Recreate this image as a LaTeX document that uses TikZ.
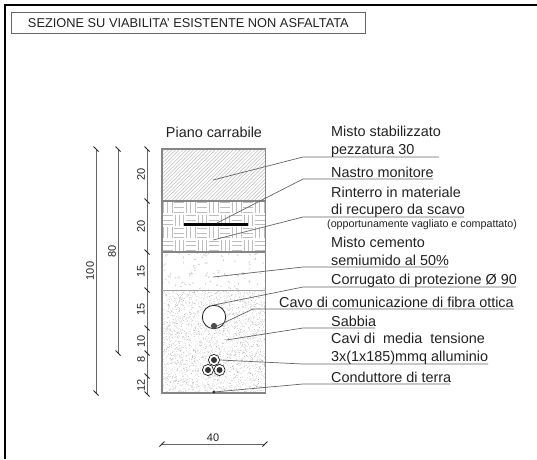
\documentclass[tikz,border=0pt]{standalone}
\usepackage{fontspec}
\setmainfont{Liberation Sans}
\definecolor{ink}{HTML}{222222}
\definecolor{dimc}{HTML}{666666}
\definecolor{hatch}{HTML}{BEBEBE}
\tikzset{
  lbl/.style={anchor=base west,inner sep=0pt,text=ink,font=\fontsize{14.4}{16}\selectfont},
  small/.style={anchor=base west,inner sep=0pt,text=ink,font=\fontsize{10.7}{12}\selectfont},
  dimtxt/.style={inner sep=0pt,text=ink,font=\fontsize{11}{13}\selectfont},
  dimv/.style={dimtxt,rotate=90},
  dimline/.style={draw=dimc,line width=0.8pt},
  tickm/.style={draw=black!85,line width=1pt},
  leader/.style={draw=dimc,line width=0.7pt},
  layer/.style={draw=dimc!80,line width=1.1pt},
}
\newcommand{\vtick}[2]{\draw[tickm] (#1-2.5,#2-2.5) -- (#1+2.5,#2+2.5);}
\begin{document}
\begin{tikzpicture}[x=1pt,y=-1pt]
\useasboundingbox (0,0) rectangle (537,459);
\fill[white] (0,0) rectangle (537,459);
% outer frame
\draw[black,line width=1.8pt] (5,459) -- (5,5) -- (537,5);
% title
\node[draw=dimc,line width=0.7pt,minimum width=354pt,minimum height=21pt,inner sep=0pt,anchor=north west,text=ink,font=\fontsize{12.8}{14}\selectfont] (title) at (11,12) {SEZIONE SU VIABILITA' ESISTENTE NON ASFALTATA};
% layer 1: diagonal hatch
\begin{scope}
\clip (162,149) rectangle (265.5,201);
\foreach \i in {0,3.6,...,160} {
  \draw[hatch,line width=0.5pt] (162+\i-52,201) -- (162+\i,149);
}
\end{scope}
% layer 2: basket weave
\begin{scope}
\clip (162,201) rectangle (265.5,252);
\foreach \c in {0,...,8} {
  \foreach \r in {0,...,3} {
    \pgfmathsetmacro{\xa}{162+\c*11.5}
    \pgfmathsetmacro{\ya}{201+\r*12.75}
    \pgfmathtruncatemacro{\parit}{mod(\c+\r,2)}
    \ifnum\parit=0
      \foreach \k in {0.14,0.5,0.86} {
        \draw[hatch,line width=0.7pt] (\xa+\k*11.5,\ya+0.8) -- (\xa+\k*11.5,\ya+11.95);
      }
    \else
      \foreach \k in {0.14,0.5,0.86} {
        \draw[hatch,line width=0.7pt] (\xa+0.8,\ya+\k*12.75) -- (\xa+10.7,\ya+\k*12.75);
      }
    \fi
  }
}
\end{scope}
% layer 3: sparse flecks
\pgfmathsetseed{4242}
\begin{scope}
\clip (162,252) rectangle (265.5,290);
\foreach \i in {1,...,90} {
  \pgfmathsetmacro{\px}{162+rnd*103.5}
  \pgfmathsetmacro{\py}{252+rnd*38}
  \pgfmathsetmacro{\pa}{rnd*360}
  \draw[hatch,line width=0.5pt] (\px,\py) -- ++(\pa:2);
}
\end{scope}
% layer 4: stipple
\begin{scope}
\clip (162,290) rectangle (265.5,393);
\foreach \i in {1,...,2800} {
  \pgfmathsetmacro{\px}{162+rnd*103.5}
  \pgfmathsetmacro{\py}{290+rnd*103}
  \fill[black!40] (\px,\py) circle (0.3);
}
\end{scope}
% section outlines
\draw[layer] (162,149) rectangle (265.5,393);
\draw[layer] (162,201) -- (265.5,201);
\draw[layer] (162,252) -- (265.5,252);
\draw[draw=dimc!60,line width=0.6pt] (162,290) -- (265.5,290);
% ribbon
\draw[black,line width=3pt] (184,224) -- (248,224);
% conduit and cables
\draw[draw=ink,line width=0.8pt,fill=white] (214,317) circle (11.7);
\fill[black!70] (214,326) circle (3.1);
\foreach \cx/\cy in {214/360,208/370,219.5/370} {
  \draw[draw=ink,line width=0.7pt,fill=white] (\cx,\cy) circle (5.6);
  \fill[black!80] (\cx,\cy) circle (3);
}
\fill[black!85] (214,392) circle (1.6);
% leader ends
\coordinate (a1) at (213,180); \coordinate (k1) at (303,157); \coordinate (e1) at (439,157);
\coordinate (a2) at (217,223); \coordinate (k2) at (303,179); \coordinate (e2) at (433,179);
\coordinate (a3) at (213,240); \coordinate (k3) at (303,217); \coordinate (e3) at (464,217);
\coordinate (a4) at (213,277); \coordinate (k4) at (303,267); \coordinate (e4) at (448,267);
\coordinate (a5) at (214,305); \coordinate (k5) at (303,287); \coordinate (e5) at (516,287);
\coordinate (a6) at (217,326); \coordinate (k6) at (253,309); \coordinate (e6) at (514,309);
\coordinate (a7) at (226,340); \coordinate (k7) at (303,328); \coordinate (e7) at (375,328);
\coordinate (a8) at (220,360); \coordinate (k8) at (303,364); \coordinate (e8) at (488,364);
\coordinate (a9) at (214,392); \coordinate (k9) at (303,384); \coordinate (e9) at (450,384);
\foreach \n in {1,...,9} { \draw[leader] (a\n) -- (k\n) -- (e\n); }
% labels
\node[anchor=base,inner sep=0pt,text=ink,font=\fontsize{14.4}{16}\selectfont] (piano) at (214,137.5) {Piano carrabile};
\node[lbl] (t1) at (331,136) {Misto stabilizzato};
\node[lbl] (t2) at (331,154.5) {pezzatura 30};
\node[lbl] (t3) at (331,177) {Nastro monitore};
\node[lbl] (t4) at (331,197) {Rinterro in materiale};
\node[lbl] (t5) at (331,214) {di recupero da scavo};
\node[small] (t6) at (327,227.5) {(opportunamente vagliato e compattato)};
\node[lbl] (t7) at (331,247) {Misto cemento};
\node[lbl] (t8) at (331,265) {semiumido al 50\%};
\node[lbl] (t9) at (331,284) {Corrugato di protezione Ø 90};
\node[lbl] (t10) at (279,307) {Cavo di comunicazione di fibra ottica};
\node[lbl] (t11) at (331,326) {Sabbia};
\node[lbl] (t12) at (331,343) {Cavi di\ \ media\ \ tensione};
\node[lbl] (t13) at (331,361) {3x(1x185)mmq alluminio};
\node[lbl] (t14) at (331,382) {Conduttore di terra};
% vertical dimensions
\draw[dimline] (147,149) -- (147,394);
\foreach \y in {149,201,252,290,328,353,376,394} { \vtick{147}{\y} }
\draw[dimline] (118,149) -- (118,353);
\foreach \y in {149,353} { \vtick{118}{\y} }
\draw[dimline] (96,149) -- (96,393);
\foreach \y in {149,393} { \vtick{96}{\y} }
\node[dimv] (d1) at (141,174) {20};
\node[dimv] (d2) at (141,226) {20};
\node[dimv] (d3) at (141,271) {15};
\node[dimv] (d4) at (141,309) {15};
\node[dimv] (d5) at (141,341) {10};
\node[dimv] (d6) at (141,359) {8};
\node[dimv] (d7) at (141,385) {12};
\node[dimv] (d8) at (112,251) {80};
\node[dimv] (d9) at (90,271) {100};
% horizontal dimension
\draw[dimline] (162,444) -- (265,444);
\draw[tickm] (159.5,446.5) -- (164.5,441.5);
\draw[tickm] (262.5,446.5) -- (267.5,441.5);
\node[dimtxt] (d10) at (213,438) {40};
\end{tikzpicture}
\end{document}
